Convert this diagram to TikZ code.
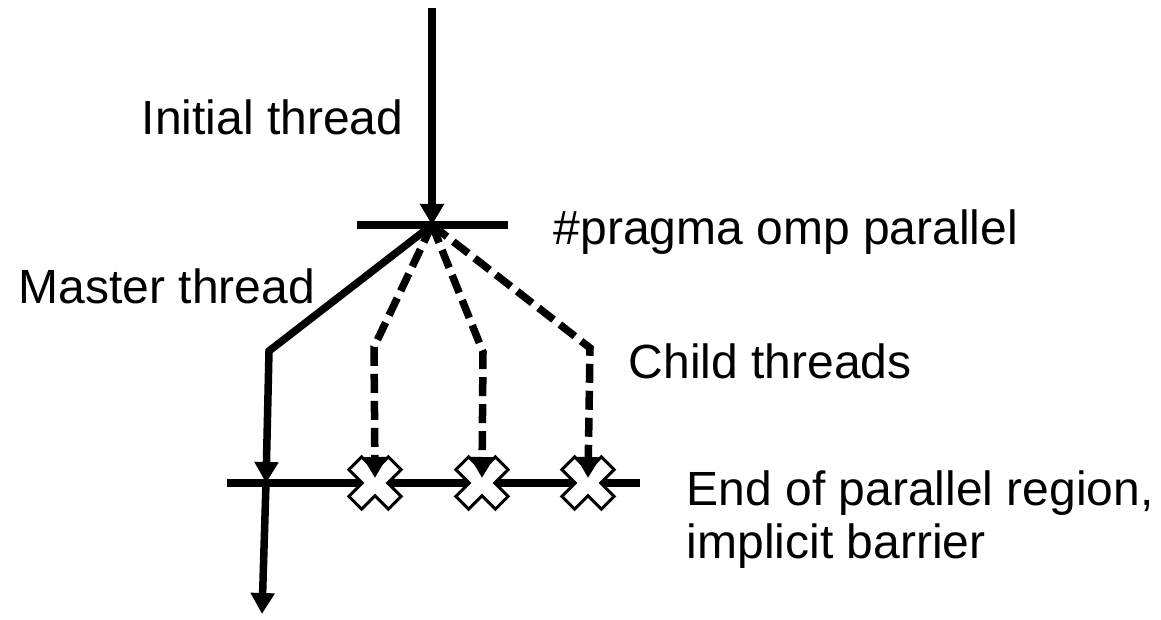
\documentclass[tikz,border=0pt]{standalone}
\usepackage{fontspec}
\setmainfont{Liberation Sans}
\usetikzlibrary{arrows.meta, positioning}

\begin{document}
\begin{tikzpicture}[x=1pt, y=-1pt, line width=7.5pt,
    >={Triangle[length=21pt, width=23pt]},
    lbl/.style={inner sep=0pt, font=\fontsize{48}{53}\selectfont, align=left},
    child/.style={->, dash pattern=on 19pt off 8pt},
    barrier/.pic={
      \filldraw[fill=white, draw=black, line width=3pt, rotate=45]
        (-9,28) -- (9,28) -- (9,9) -- (28,9) -- (28,-9) -- (9,-9) -- (9,-28)
        -- (-9,-28) -- (-9,-9) -- (-28,-9) -- (-28,9) -- (-9,9) -- cycle;
    }]
  \useasboundingbox (0,0) rectangle (1161,620);

  % thread points
  \coordinate (top) at (432,8);
  \coordinate (fork) at (432,225);
  \coordinate (mbend) at (269,351);
  \coordinate (join) at (266,483);
  \coordinate (out) at (262,614);
  \coordinate (c1) at (374,347);
  \coordinate (c2) at (483,352);
  \coordinate (c3) at (590,348);
  \coordinate (b1) at (375,483);
  \coordinate (b2) at (482,483);
  \coordinate (b3) at (588,483);
  \coordinate (barL) at (227,483);
  \coordinate (barR) at (640,483);

  % fork and barrier bars
  \draw ([xshift=-75pt]fork) -- ([xshift=76pt]fork);
  \draw (barL) -- (barR);
  \foreach \b in {b1,b2,b3}
    \pic at (\b) {barrier};

  % threads
  \draw[->] (top) -- (fork);
  \draw[->] (fork) -- (mbend) -- (join);
  \draw[->] (join) -- (out);
  \draw[child] (fork) -- (c1) -- ([yshift=5pt]b1);
  \draw[child] (fork) -- (c2) -- ([yshift=5pt]b2);
  \draw[child] (fork) -- (c3) -- ([yshift=5pt]b3);

  % labels
  \node[lbl, anchor=base east] (initial) at (407,135) {Initial thread};
  \node[lbl, anchor=base west] (pragma) at (550,245) {\#pragma omp parallel};
  \node[lbl, anchor=base west] (master) at (15,303) {Master thread};
  \node[lbl, anchor=base west] (childlbl) at (625,378) {Child threads};
  \node[lbl, anchor=base west] (endlbl) at (683,558) {End of parallel region,\\implicit barrier};
\end{tikzpicture}
\end{document}
